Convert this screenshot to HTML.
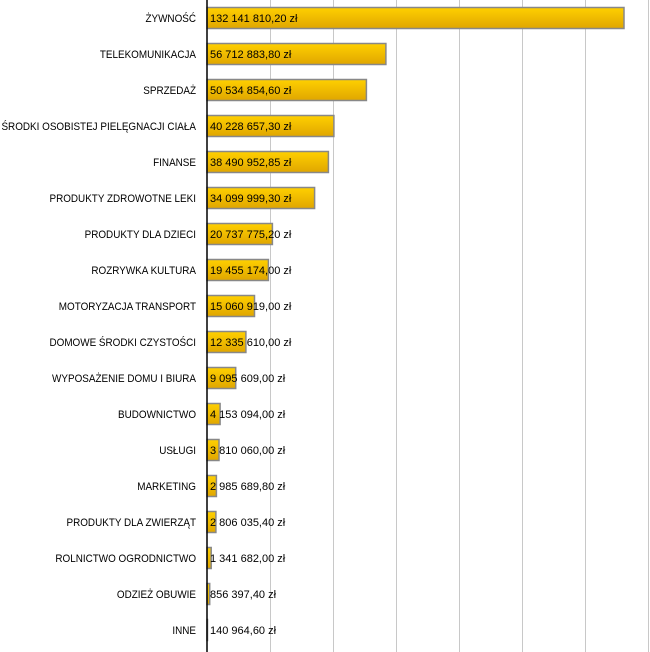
<!DOCTYPE html>
<html><head><meta charset="utf-8"><style>
html,body{margin:0;padding:0;background:#fff;}
svg{display:block;font-family:"Liberation Sans",Arial,sans-serif;font-size:11px;}
</style></head><body>
<svg width="650" height="652" viewBox="0 0 650 652">
<defs><linearGradient id="g" x1="0" y1="0" x2="0" y2="1">
<stop offset="0" stop-color="#ffd000"/><stop offset="1" stop-color="#e0a600"/></linearGradient></defs>
<g stroke="#c8c8c8" stroke-width="1">
<line x1="270.5" y1="0" x2="270.5" y2="652"/><line x1="333.5" y1="0" x2="333.5" y2="652"/>
<line x1="396.5" y1="0" x2="396.5" y2="652"/><line x1="459.5" y1="0" x2="459.5" y2="652"/>
<line x1="522.5" y1="0" x2="522.5" y2="652"/><line x1="585.5" y1="0" x2="585.5" y2="652"/>
<line x1="648.5" y1="0" x2="648.5" y2="652"/>
</g>
<g fill="url(#g)" stroke="#888" stroke-width="1.5">
<rect x="207" y="7.5" width="417" height="21"/>
<rect x="207" y="43.5" width="178.9" height="21"/>
<rect x="207" y="79.5" width="159.4" height="21"/>
<rect x="207" y="115.5" width="126.9" height="21"/>
<rect x="207" y="151.5" width="121.4" height="21"/>
<rect x="207" y="187.5" width="107.6" height="21"/>
<rect x="207" y="223.5" width="65.4" height="21"/>
<rect x="207" y="259.5" width="61.4" height="21"/>
<rect x="207" y="295.5" width="47.5" height="21"/>
<rect x="207" y="331.5" width="38.9" height="21"/>
<rect x="207" y="367.5" width="28.7" height="21"/>
<rect x="207" y="403.5" width="13.1" height="21"/>
<rect x="207" y="439.5" width="12" height="21"/>
<rect x="207" y="475.5" width="9.4" height="21"/>
<rect x="207" y="511.5" width="8.9" height="21"/>
<rect x="207" y="547.5" width="4.2" height="21"/>
<rect x="207" y="583.5" width="2.7" height="21"/>
<rect x="207" y="619.5" width="0.5" height="21"/>
</g>
<line x1="207" y1="0" x2="207" y2="652" stroke="#000" stroke-width="1.5"/>
<g text-anchor="end" fill="#000" transform="scale(0.9,1)">
<text x="217.8" y="22">ŻYWNOŚĆ</text><text x="217.8" y="58">TELEKOMUNIKACJA</text>
<text x="217.8" y="94">SPRZEDAŻ</text><text x="217.8" y="130">ŚRODKI OSOBISTEJ PIELĘGNACJI CIAŁA</text>
<text x="217.8" y="166">FINANSE</text><text x="217.8" y="202">PRODUKTY ZDROWOTNE LEKI</text>
<text x="217.8" y="238">PRODUKTY DLA DZIECI</text><text x="217.8" y="274">ROZRYWKA KULTURA</text>
<text x="217.8" y="310">MOTORYZACJA TRANSPORT</text><text x="217.8" y="346">DOMOWE ŚRODKI CZYSTOŚCI</text>
<text x="217.8" y="382">WYPOSAŻENIE DOMU I BIURA</text><text x="217.8" y="418">BUDOWNICTWO</text>
<text x="217.8" y="454">USŁUGI</text><text x="217.8" y="490">MARKETING</text>
<text x="217.8" y="526">PRODUKTY DLA ZWIERZĄT</text><text x="217.8" y="562">ROLNICTWO OGRODNICTWO</text>
<text x="217.8" y="598">ODZIEŻ OBUWIE</text><text x="217.8" y="634">INNE</text>
</g>
<g fill="#000">
<text x="210" y="22">132 141 810,20 zł</text><text x="210" y="58">56 712 883,80 zł</text>
<text x="210" y="94">50 534 854,60 zł</text><text x="210" y="130">40 228 657,30 zł</text>
<text x="210" y="166">38 490 952,85 zł</text><text x="210" y="202">34 099 999,30 zł</text>
<text x="210" y="238">20 737 775,20 zł</text><text x="210" y="274">19 455 174,00 zł</text>
<text x="210" y="310">15 060 919,00 zł</text><text x="210" y="346">12 335 610,00 zł</text>
<text x="210" y="382">9 095 609,00 zł</text><text x="210" y="418">4 153 094,00 zł</text>
<text x="210" y="454">3 810 060,00 zł</text><text x="210" y="490">2 985 689,80 zł</text>
<text x="210" y="526">2 806 035,40 zł</text><text x="210" y="562">1 341 682,00 zł</text>
<text x="210" y="598">856 397,40 zł</text><text x="210" y="634">140 964,60 zł</text>
</g>
</svg>
</body></html>
